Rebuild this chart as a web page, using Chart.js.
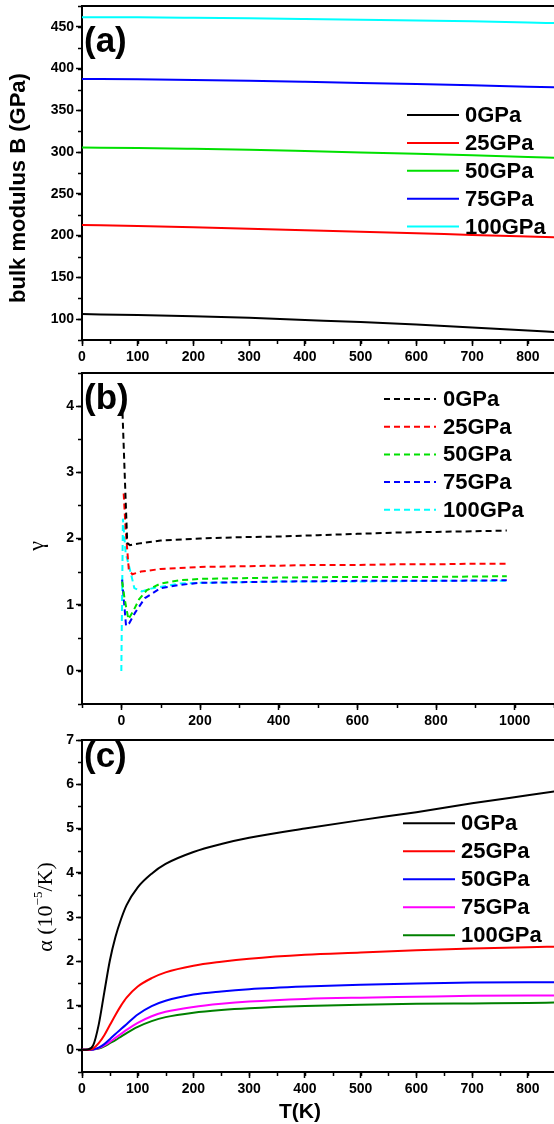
<!DOCTYPE html>
<html>
<head>
<meta charset="utf-8">
<script src="https://cdn.jsdelivr.net/npm/chart.js@4.4.0/dist/chart.umd.min.js"></script>
<style>
html, body { margin: 0; padding: 0; background: #fff; overflow: hidden; }
#wrap { position: relative; width: 554px; height: 1124px; }
canvas { position: absolute; left: 0; top: 0; }
</style>
</head>
<body>
<div id="wrap">
  <canvas id="chartA" width="554" height="1124"></canvas>
  <canvas id="chartB" width="554" height="1124"></canvas>
  <canvas id="chartC" width="554" height="1124"></canvas>
</div>
<script>
var pressures = ['0GPa', '25GPa', '50GPa', '75GPa', '100GPa'];

// (a) bulk modulus B (GPa) vs T(K)
var tempA = [0, 100, 200, 300, 400, 500, 600, 700, 800, 850];
var bulk0   = [106.0, 105.0, 103.5, 101.5, 99.0, 96.5, 93.5, 90.0, 86.5, 84.5];
var bulk25  = [212.8, 211.5, 210.0, 208.3, 206.5, 204.7, 202.8, 200.8, 198.9, 197.9];
var bulk50  = [305.5, 305.0, 304.0, 302.8, 301.3, 299.7, 298.0, 296.2, 294.2, 293.1];
var bulk75  = [387.6, 387.2, 386.4, 385.4, 384.2, 382.9, 381.5, 380.0, 378.4, 377.6];
var bulk100 = [461.6, 461.4, 460.9, 460.3, 459.5, 458.6, 457.6, 456.6, 455.3, 454.5];
var xTicksA = [0, 100, 200, 300, 400, 500, 600, 700, 800];
var yTicksA = [100, 150, 200, 250, 300, 350, 400, 450];

// (b) gamma vs T(K), each curve has its own T points (sharp spike near 0 K)
var tG0   = [3, 9, 15, 22, 50, 100, 200, 300, 400, 500, 600, 700, 800, 900, 980];
var gam0  = [3.9, 2.9, 1.93, 1.9, 1.93, 1.97, 2.0, 2.02, 2.03, 2.05, 2.07, 2.09, 2.1, 2.11, 2.12];
var tG25  = [6, 11, 19, 28, 50, 100, 200, 300, 400, 500, 600, 700, 800, 900, 980];
var gam25 = [2.68, 2.13, 1.53, 1.46, 1.5, 1.54, 1.57, 1.58, 1.59, 1.6, 1.6, 1.61, 1.61, 1.62, 1.62];
var tG50  = [2, 8, 18, 30, 45, 65, 100, 150, 200, 300, 400, 600, 800, 980];
var gam50 = [1.35, 1.1, 0.78, 0.9, 1.08, 1.22, 1.32, 1.37, 1.39, 1.4, 1.41, 1.42, 1.42, 1.43];
var tG75  = [2, 12, 20, 35, 60, 100, 150, 200, 300, 400, 600, 800, 980];
var gam75 = [1.38, 0.68, 0.72, 0.88, 1.1, 1.25, 1.3, 1.33, 1.34, 1.35, 1.36, 1.36, 1.37];
var tG100  = [0, 4, 11, 24, 33, 52, 80, 150, 200, 300, 400, 600, 800, 980];
var gam100 = [0, 2.3, 1.78, 1.48, 1.25, 1.2, 1.25, 1.32, 1.33, 1.34, 1.35, 1.35, 1.36, 1.36];
var xTicksB = [0, 200, 400, 600, 800, 1000];
var yTicksB = [0, 1, 2, 3, 4];

// (c) alpha (10^-5/K) vs T(K)
var tempC = [0, 10, 20, 30, 40, 50, 60, 70, 80, 100, 125, 150, 200, 250, 300, 400, 500, 600, 700, 800, 850];
var alpha0   = [0, 0.01, 0.1, 0.57, 1.3, 2.02, 2.55, 2.95, 3.27, 3.67, 3.98, 4.2, 4.47, 4.65, 4.79, 5.0, 5.19, 5.37, 5.57, 5.75, 5.84];
var alpha25  = [0, 0, 0.03, 0.15, 0.33, 0.56, 0.79, 1.0, 1.18, 1.43, 1.62, 1.75, 1.9, 1.99, 2.06, 2.15, 2.2, 2.25, 2.29, 2.32, 2.33];
var alpha50  = [0, 0, 0.01, 0.05, 0.13, 0.24, 0.36, 0.47, 0.58, 0.8, 0.99, 1.11, 1.25, 1.32, 1.37, 1.43, 1.47, 1.5, 1.52, 1.53, 1.53];
var alpha75  = [0, 0, 0.01, 0.04, 0.1, 0.18, 0.27, 0.36, 0.45, 0.61, 0.76, 0.86, 0.97, 1.04, 1.09, 1.15, 1.18, 1.2, 1.22, 1.23, 1.23];
var alpha100 = [0, 0, 0.01, 0.03, 0.08, 0.15, 0.22, 0.3, 0.38, 0.52, 0.65, 0.74, 0.84, 0.9, 0.94, 0.99, 1.02, 1.04, 1.05, 1.06, 1.07];
var xTicksC = [0, 100, 200, 300, 400, 500, 600, 700, 800];
var yTicksC = [0, 1, 2, 3, 4, 5, 6, 7];

var SANS = '"Liberation Sans", Arial, sans-serif';
var SERIF = '"Liberation Serif", "Times New Roman", serif';

function pts(xs, ys) {
  return xs.map(function (x, i) { return { x: x, y: ys[i] }; });
}

function makeSets(xsList, ysList, colors, dash, smooth) {
  return ysList.map(function (ys, i) {
    return {
      label: pressures[i],
      data: pts(xsList[i], ys),
      borderColor: colors[i],
      borderWidth: 2,
      borderDash: dash,
      pointRadius: 0,
      fill: false,
      tension: 0,
      cubicInterpolationMode: smooth ? 'monotone' : 'default'
    };
  });
}

function axes(xMin, xMax, xTicks, xMinor, yMin, yMax, yTicks, yMinor) {
  var tickFont = { family: SANS, size: 14, weight: 'bold' };
  var grid = { display: true, drawOnChartArea: false, drawTicks: true, tickLength: 6, tickWidth: 1.5, tickColor: '#000' };
  return {
    x: {
      type: 'linear', min: xMin, max: xMax, minor: xMinor,
      afterBuildTicks: function (s) { s.ticks = xTicks.map(function (v) { return { value: v }; }); },
      afterFit: function (s) { s.height = 32; s.paddingLeft = 0; s.paddingRight = 0; },
      grid: grid,
      border: { display: true, color: '#000', width: 2 },
      ticks: { color: '#000', font: tickFont, padding: 3, maxRotation: 0, autoSkip: false,
               callback: function (v) { return String(v); } }
    },
    y: {
      type: 'linear', min: yMin, max: yMax, minor: yMinor,
      afterBuildTicks: function (s) { s.ticks = yTicks.map(function (v) { return { value: v }; }); },
      afterFit: function (s) { s.width = 82; s.paddingTop = 0; s.paddingBottom = 0; },
      grid: grid,
      border: { display: true, color: '#000', width: 2 },
      ticks: { color: '#000', font: tickFont, padding: 2, autoSkip: false,
               callback: function (v) { return String(v); } }
    }
  };
}

// frame top line, minor ticks, inside legend, panel tag and axis titles
var panelPlugin = {
  id: 'panel',
  afterDraw: function (chart, args, o) {
    var ctx = chart.ctx, a = chart.chartArea;
    var xs = chart.scales.x, ys = chart.scales.y;
    ctx.save();
    ctx.strokeStyle = '#000';
    ctx.lineWidth = 2;
    ctx.beginPath();
    ctx.moveTo(a.left - 1, a.top);
    ctx.lineTo(a.right, a.top);
    ctx.stroke();

    ctx.lineWidth = 1.5;
    ctx.beginPath();
    var st = xs.options.minor, v;
    for (v = Math.ceil(xs.min / st) * st; v <= xs.max; v += st) {
      var px = Math.round(xs.getPixelForValue(v)) + 0.5;
      ctx.moveTo(px, a.bottom); ctx.lineTo(px, a.bottom + 4);
    }
    st = ys.options.minor;
    for (v = Math.ceil(ys.min / st) * st; v <= ys.max; v += st) {
      var py = Math.round(ys.getPixelForValue(v)) + 0.5;
      ctx.moveTo(a.left - 4, py); ctx.lineTo(a.left, py);
    }
    ctx.stroke();

    var lg = o.legend;
    chart.data.datasets.forEach(function (ds, i) {
      var y = lg.y + i * lg.dy;
      ctx.strokeStyle = ds.borderColor;
      ctx.lineWidth = 2;
      ctx.setLineDash(ds.borderDash || []);
      ctx.beginPath();
      ctx.moveTo(lg.x1, y); ctx.lineTo(lg.x2, y);
      ctx.stroke();
      ctx.setLineDash([]);
      ctx.fillStyle = '#000';
      ctx.font = 'bold 22px ' + SANS;
      ctx.textBaseline = 'middle';
      ctx.textAlign = 'left';
      ctx.fillText(ds.label, lg.tx, y + 1);
    });

    ctx.fillStyle = '#000';
    ctx.font = 'bold 35px ' + SANS;
    ctx.textBaseline = 'alphabetic';
    ctx.textAlign = 'left';
    ctx.fillText(o.tag, o.tagX, o.tagY);

    var t = o.yTitle;
    ctx.save();
    ctx.translate(t.x, t.y);
    ctx.rotate(-Math.PI / 2);
    ctx.textBaseline = 'middle';
    var total = 0;
    t.parts.forEach(function (p) { ctx.font = p.font; total += ctx.measureText(p.text).width; });
    var cx = -total / 2;
    t.parts.forEach(function (p) {
      ctx.font = p.font;
      ctx.fillText(p.text, cx, p.dy || 0);
      cx += ctx.measureText(p.text).width;
    });
    ctx.restore();

    if (o.xTitle) {
      ctx.font = o.xTitle.font;
      ctx.textAlign = 'center';
      ctx.textBaseline = 'alphabetic';
      ctx.fillText(o.xTitle.text, o.xTitle.x, o.xTitle.y);
    }
    ctx.restore();
  }
};

function baseOptions(pad, scales, panel) {
  return {
    responsive: false,
    animation: false,
    events: [],
    layout: { padding: pad },
    scales: scales,
    plugins: { legend: { display: false }, tooltip: { enabled: false }, panel: panel }
  };
}

var chartA = new Chart(document.getElementById('chartA'), {
  type: 'line',
  data: {
    datasets: makeSets([tempA, tempA, tempA, tempA, tempA],
      [bulk0, bulk25, bulk50, bulk75, bulk100],
      ['#000000', '#ff0000', '#00e000', '#0000ff', '#00ffff'], [], true)
  },
  options: baseOptions({ top: 6, bottom: 752, left: 0, right: 0 },
    axes(0, 847, xTicksA, 50, 75, 475, yTicksA, 25),
    { legend: { x1: 407, x2: 459, tx: 465, y: 115, dy: 27.9 },
      tag: '(a)', tagX: 84, tagY: 52,
      yTitle: { x: 19, y: 188, parts: [{ text: 'bulk modulus B (GPa)', font: 'bold 22px ' + SANS }] } }),
  plugins: [panelPlugin]
});

var chartB = new Chart(document.getElementById('chartB'), {
  type: 'line',
  data: {
    datasets: makeSets([tG0, tG25, tG50, tG75, tG100],
      [gam0, gam25, gam50, gam75, gam100],
      ['#000000', '#ff0000', '#00e000', '#0000ff', '#00ffff'], [6, 4], false)
  },
  options: baseOptions({ top: 373, bottom: 388, left: 0, right: 0 },
    axes(-100, 1100, xTicksB, 100, -0.5, 4.5, yTicksB, 0.5),
    { legend: { x1: 384, x2: 436, tx: 443, y: 399, dy: 27.7 },
      tag: '(b)', tagX: 84, tagY: 409,
      yTitle: { x: 37, y: 546, parts: [{ text: 'γ', font: '22px ' + SERIF }] } }),
  plugins: [panelPlugin]
});

var chartC = new Chart(document.getElementById('chartC'), {
  type: 'line',
  data: {
    datasets: makeSets([tempC, tempC, tempC, tempC, tempC],
      [alpha0, alpha25, alpha50, alpha75, alpha100],
      ['#000000', '#ff0000', '#0000ff', '#ff00ff', '#008000'], [], true)
  },
  options: baseOptions({ top: 740, bottom: 20, left: 0, right: 0 },
    axes(0, 847, xTicksC, 50, -0.5, 7, yTicksC, 0.5),
    { legend: { x1: 403, x2: 455, tx: 461, y: 823.3, dy: 28 },
      tag: '(c)', tagX: 84, tagY: 767,
      yTitle: { x: 46, y: 907, parts: [
        { text: 'α (10', font: '22px ' + SERIF },
        { text: '−5', font: '13px ' + SERIF, dy: -7 },
        { text: '/K)', font: '22px ' + SERIF }
      ] },
      xTitle: { text: 'T(K)', x: 300, y: 1118, font: 'bold 21px ' + SANS } }),
  plugins: [panelPlugin]
});
</script>
</body>
</html>
